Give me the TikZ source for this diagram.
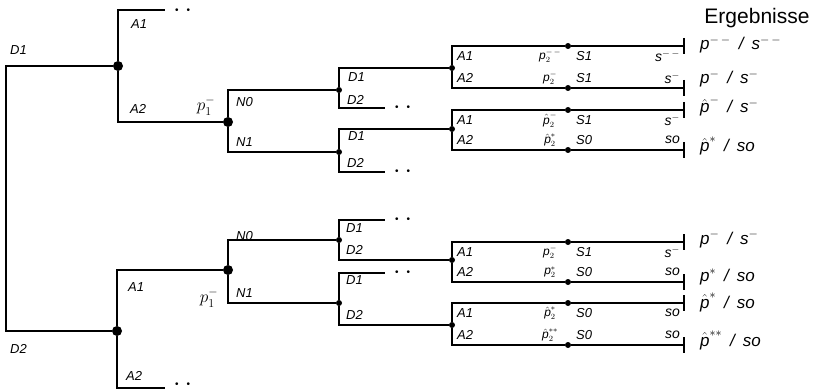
\documentclass[tikz,border=0pt]{standalone}
\usepackage{amsmath}
\usepackage{fontspec}
\setsansfont{Liberation Sans}
\usepackage{tikz}

\newcommand{\pv}{\text{\sffamily\itshape p}}
\newcommand{\sv}{\text{\sffamily\itshape s}}
\newcommand{\erg}[2]{#1\hspace{8pt}/\hspace{8pt}#2}

\tikzset{
  ast/.style={line width=2pt},
  knoten/.style={circle, fill, inner sep=0pt, minimum size=10pt},
  punkt/.style={circle, fill, inner sep=0pt, minimum size=6pt},
  lab/.style={font=\sffamily\itshape\fontsize{13}{13}\selectfont, inner sep=0pt, anchor=west},
  plab/.style={font=\fontsize{12}{12}\selectfont, inner sep=0pt},
  slab/.style={font=\sffamily\itshape\fontsize{13}{13}\selectfont, inner sep=0pt, anchor=west},
  elab/.style={font=\sffamily\itshape\fontsize{14}{14}\selectfont, inner sep=0pt, anchor=east},
  ergtext/.style={font=\sffamily\itshape\fontsize{17}{17}\selectfont, inner sep=0pt, anchor=base west},
  weiter/.style={font=\sffamily\fontsize{10}{10}\selectfont, inner sep=0pt, anchor=west, xshift=10pt}
}

\begin{document}
\begin{tikzpicture}[x=1pt, y=-1pt]
  \useasboundingbox (0,0) rectangle (816,390);

  % Knoten
  \coordinate (wurzel) at (6,198);
  \node[knoten] (c1) at (118,66) {};
  \node[knoten] (c2) at (117,331) {};
  \node[knoten] (e1) at (228,122) {};
  \node[knoten] (e2) at (228,270) {};
  \node[punkt] (f1) at (339,90) {};
  \node[punkt] (f2) at (339,152) {};
  \node[punkt] (f3) at (339,240) {};
  \node[punkt] (f4) at (339,303) {};
  \node[punkt] (g1) at (452,68) {};
  \node[punkt] (g2) at (452,129) {};
  \node[punkt] (g3) at (452,260) {};
  \node[punkt] (g4) at (452,325) {};

  % offene Zweige
  \coordinate (o1) at (165,10);
  \coordinate (o2) at (165,388);
  \coordinate (o3) at (385,108);
  \coordinate (o4) at (385,172);
  \coordinate (o5) at (385,220);
  \coordinate (o6) at (385,273);

  % Zweige
  \draw[ast] (wurzel) |- (c1);
  \draw[ast] (wurzel) |- (c2);
  \draw[ast] (c1) |- (o1);
  \draw[ast] (c1) |- (e1);
  \draw[ast] (c2) |- (e2);
  \draw[ast] (c2) |- (o2);
  \draw[ast] (e1) |- (f1);
  \draw[ast] (e1) |- (f2);
  \draw[ast] (e2) |- (f3);
  \draw[ast] (e2) |- (f4);
  \draw[ast] (f1) |- (g1);
  \draw[ast] (f1) |- (o3);
  \draw[ast] (f2) |- (g2);
  \draw[ast] (f2) |- (o4);
  \draw[ast] (f3) |- (o5);
  \draw[ast] (f3) |- (g3);
  \draw[ast] (f4) |- (o6);
  \draw[ast] (f4) |- (g4);
  \node[weiter, yshift=-1pt] (w1) at (o1) {\textbullet\hspace{8pt}\textbullet};
  \node[weiter, yshift=3pt] (w2) at (o2) {\textbullet\hspace{8pt}\textbullet};
  \foreach \o in {3,...,6}
    \node[weiter] (w\o) at (o\o) {\textbullet\hspace{8pt}\textbullet};

  % Beschriftung der Zweige
  \node[lab] (d1) at (10,50) {D1};
  \node[lab] (d2) at (10,349) {D2};
  \node[lab] (ca1) at (131,24) {A1};
  \node[lab] (ca2) at (130,109) {A2};
  \node[lab] (cb1) at (128,287) {A1};
  \node[lab] (cb2) at (126,376) {A2};
  \node[lab] (ea0) at (236,102) {N0};
  \node[lab] (ea1) at (236,142) {N1};
  \node[lab] (eb0) at (236,236) {N0};
  \node[lab] (eb1) at (236,293) {N1};
  \node[lab] (fa1) at (348,77) {D1};
  \node[lab] (fa2) at (347,100) {D2};
  \node[lab] (fb1) at (348,136) {D1};
  \node[lab] (fb2) at (347,163) {D2};
  \node[lab] (fc1) at (346,228) {D1};
  \node[lab] (fc2) at (346,250) {D2};
  \node[lab] (fd1) at (346,280) {D1};
  \node[lab] (fd2) at (346,315) {D2};
  \node[font=\fontsize{18}{18}\selectfont] (q1) at (206,106) {$p_1^-$};
  \node[font=\fontsize{18}{18}\selectfont] (q2) at (209,298) {$p_1^-$};

  % Ergebnisse
  \node[font=\sffamily\fontsize{21}{21}\selectfont, anchor=base] (titel) at (757,24) {Ergebnisse};
  \foreach \n/\g/\y/\d/\a/\p/\s/\e/\ry/\r in {
    1/g1/46/10/A1/{$\pv_2^{-\,-}$}/S1/{$\sv^{-\,-}$}/50/{\erg{$\pv^{-\,-}$}{$\sv^{-\,-}$}},
    2/g1/88/-10/A2/{$\pv_2^{-}$}/S1/{$\sv^{-}$}/84/{\erg{$\pv^{-}$}{$\sv^{-}$}},
    3/g2/110/10/A1/{$\hat\pv_2^{-}$}/S1/{$\sv^{-}$}/113/{\erg{$\hat\pv^{-}$}{$\sv^{-}$}},
    4/g2/150/-10/A2/{$\hat\pv_2^{*}$}/S0/{so}/152/{\erg{$\hat\pv^{*}$}{so}},
    5/g3/242/10/A1/{$\pv_2^{-}$}/S1/{$\sv^{-}$}/244/{\erg{$\pv^{-}$}{$\sv^{-}$}},
    6/g3/282/-10/A2/{$\pv_2^{*}$}/S0/{so}/281/{\erg{$\pv^{*}$}{so}},
    7/g4/303/10/A1/{$\hat\pv_2^{*}$}/S0/{so}/308/{\erg{$\hat\pv^{*}$}{so}},
    8/g4/345/-10/A2/{$\hat\pv_2^{**}$}/S0/{so}/346/{\erg{$\hat\pv^{**}$}{so}}}
  {
    \node[punkt] (s\n) at (568,\y) {};
    \coordinate (t\n) at (684,\y);
    \draw[ast] (\g) |- (s\n) -- (t\n);
    \draw[ast] (t\n) ++(0,-8) -- ++(0,16);
    \node[lab] (a\n) at (457,{\y+(\d)}) {\a};
    \node[plab] (p\n) at (550,{\y+(\d)}) {\p};
    \node[slab] (sl\n) at (576,{\y+(\d)}) {\s};
    \node[elab] (el\n) at (680,{\y+(\d)}) {\e};
    \node[ergtext] (r\n) at (700,\ry) {\r};
  }
\end{tikzpicture}
\end{document}
